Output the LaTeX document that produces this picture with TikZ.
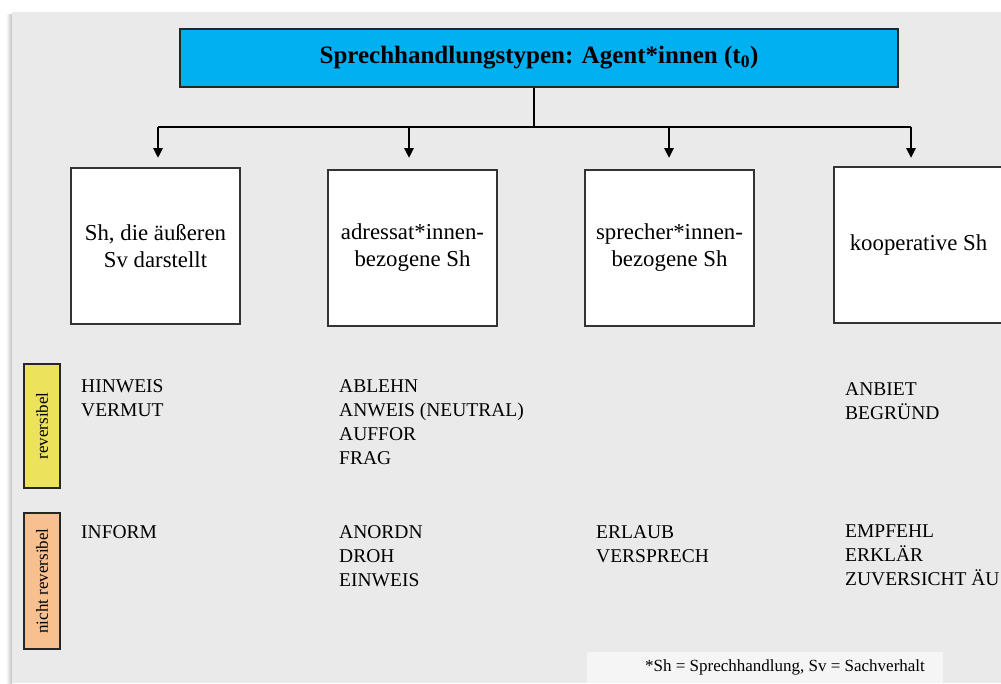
\documentclass[tikz,border=0pt]{standalone}
\usepackage{fontspec}
\setmainfont{Liberation Serif}
\usepackage{xcolor}
\usepackage{tikz}
\usetikzlibrary{arrows.meta,positioning,calc}

\definecolor{titleblue}{RGB}{0,176,240}
\definecolor{revyellow}{RGB}{237,226,92}
\definecolor{nrorange}{RGB}{248,192,143}
\definecolor{bggrey}{RGB}{234,234,234}
\definecolor{notegrey}{RGB}{245,245,245}

\begin{document}
\begin{tikzpicture}[x=1pt,y=-1pt,
    titlebox/.style={draw=black!85, line width=1.4pt, fill=titleblue,
        minimum width=718pt, minimum height=58pt, inner sep=0pt,
        font=\fontsize{25}{30}\selectfont\bfseries},
    catbox/.style={draw=black!80, line width=1.4pt, fill=white,
        minimum width=169pt, minimum height=156pt, align=center,
        font=\fontsize{22.8}{27}\selectfont},
    tagbox/.style={draw=black!85, line width=1.2pt, rotate=90,
        minimum height=36pt, inner sep=0pt,
        font=\fontsize{17}{20}\selectfont},
    acts/.style={anchor=north west, align=left, inner sep=0pt,
        font=\fontsize{19.5}{24}\selectfont},
    link/.style={line width=1.4pt},
    arrowline/.style={line width=2.6pt, -{Triangle[length=10pt,width=9pt]}}]

    \clip (0,0) rectangle (1001,683);

    % Background
    \shade[left color=white, right color=black!25] (6,14) rectangle (12,683);
    \fill[bggrey] (12,12) rectangle (1001,683);

    % Title
    \node[titlebox] (title) at (539,58) {Sprechhandlungstypen: Agent*innen (t\textsubscript{0})};

    % Branches
    \coordinate (hub) at (534,127);
    \draw[link] (title.south -| hub) -- (hub);
    \foreach \i/\x in {1/158,2/409,3/669,4/911} {
        \coordinate (b\i) at (\x,127);
        \draw[arrowline] (b\i) -- ++(0,31);
    }
    \draw[link] (b1) -- (b4);

    % Categories
    \node[catbox] (cat1) at (155.5,246) {Sh, die äußeren\\Sv darstellt};
    \node[catbox] (cat2) at (412.5,248) {adressat*innen-\\bezogene Sh};
    \node[catbox] (cat3) at (669.5,248) {sprecher*innen-\\bezogene Sh};
    \node[catbox] (cat4) at (918.5,245) {kooperative Sh};

    % Row labels
    \node[tagbox, fill=revyellow, minimum width=124pt] (rev) at (42,426) {reversibel};
    \node[tagbox, fill=nrorange, minimum width=136pt] (nrev) at (42,581) {nicht reversibel};

    % Reversible acts
    \node[acts] (rev1) at (81,379) {HINWEIS\\VERMUT};
    \node[acts] (rev2) at (339,379) {ABLEHN\\ANWEIS (NEUTRAL)\\AUFFOR\\FRAG};
    \node[acts] (rev4) at (845,382) {ANBIET\\BEGRÜND};

    % Non-reversible acts
    \node[acts] (nrev1) at (81,525) {INFORM};
    \node[acts] (nrev2) at (339,525) {ANORDN\\DROH\\EINWEIS};
    \node[acts] (nrev3) at (596,525) {ERLAUB\\VERSPRECH};
    \node[acts] (nrev4) at (845,525) {EMPFEHL\\ERKLÄR\\ZUVERSICHT ÄU};

    % Footnote
    \fill[notegrey] (587,652) rectangle (943,683);
    \node[font=\fontsize{17}{20}\selectfont] (note) at (785,667) {*Sh = Sprechhandlung, Sv = Sachverhalt};
\end{tikzpicture}
\end{document}
